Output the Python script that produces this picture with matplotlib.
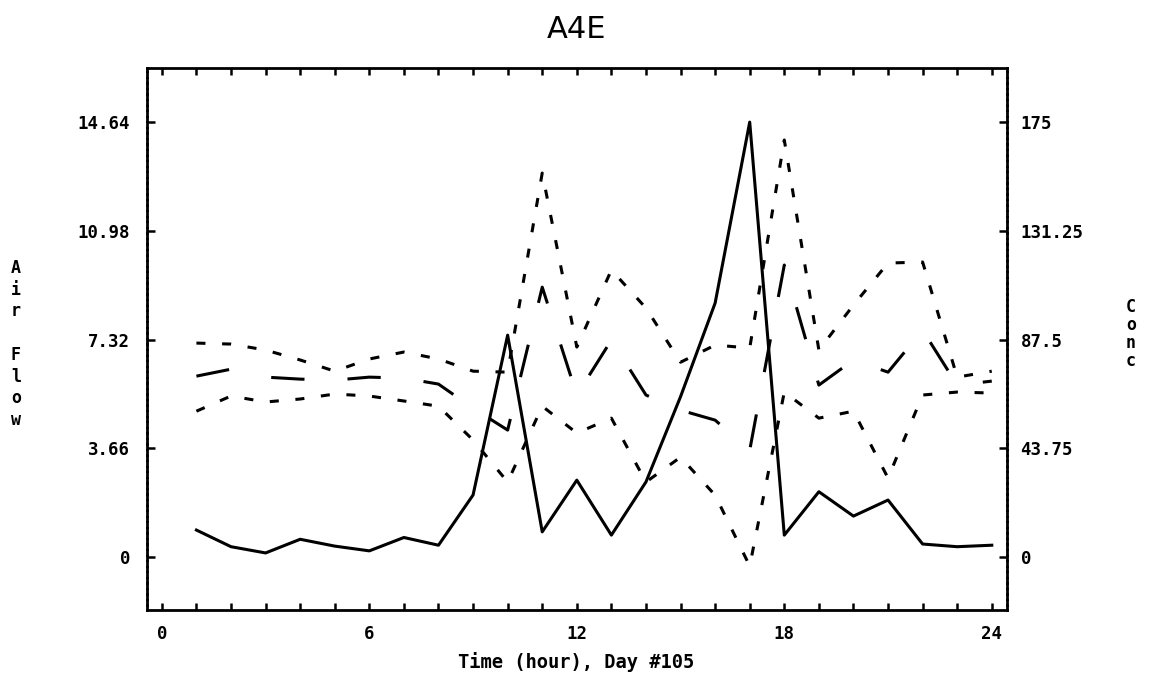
"""
A4E 空気流量と濃度のチャート
"""

import matplotlib.pyplot as plt

hours = list(range(1, 25))

# Air Flow (left axis), solid line
air_flow = [0.91, 0.35, 0.14, 0.60, 0.37, 0.21, 0.66, 0.40, 2.09, 7.47, 0.85, 2.59,
            0.74, 2.53, 5.40, 8.55, 14.64, 0.74, 2.20, 1.38, 1.92, 0.44, 0.35, 0.40]

# Conc (right axis), three dashed series
conc_a = [86.1, 85.7, 83.3, 79.3, 74.8, 79.7, 82.5, 79.7, 74.8, 74.4, 154.5, 84.5,
          115.5, 100.2, 78.4, 85.3, 84.1, 167.8, 83.3, 101.4, 118.3, 118.7, 72.4, 74.8]
conc_b = [72.8, 75.6, 72.4, 71.6, 71.2, 72.4, 72.0, 69.6, 59.9, 51.1, 108.6, 65.2,
          87.3, 65.2, 59.1, 55.1, 43.0, 117.5, 69.2, 79.3, 74.4, 91.3, 69.2, 70.8]
conc_c = [58.7, 64.8, 62.4, 63.6, 65.6, 64.8, 62.8, 60.7, 47.1, 30.2, 60.7, 49.9,
          55.9, 30.2, 40.2, 24.9, -3.6, 66.4, 55.9, 58.7, 31.8, 65.2, 66.4, 66.0]

x_ticks = [0, 6, 12, 18, 24]
left_ticks = [0, 3.66, 7.32, 10.98, 14.64]
left_labels = ["0", "3.66", "7.32", "10.98", "14.64"]
right_ticks = [0, 43.75, 87.5, 131.25, 175]
right_labels = ["0", "43.75", "87.5", "131.25", "175"]

TICK_FONT = dict(family="DejaVu Sans Mono", weight="bold", size=12.5)
LABEL_FONT = dict(family="DejaVu Sans Mono", weight="bold", size=12)


def plot_chart():
    """
    2軸のグラフを描いて out.png に保存します。
    """
    plt.rcParams["lines.scale_dashes"] = False
    fig = plt.figure(figsize=(11.6, 6.85), dpi=100)
    ax = fig.add_axes([0.1267, 0.1095, 0.7411, 0.7912])

    ax.plot(hours, air_flow, color="black", lw=2.2, solid_joinstyle="round")
    ax.set_xlim(-0.43, 24.43)
    ax.set_ylim(-1.78, 16.46)

    ax2 = ax.twinx()
    ax2.plot(hours, conc_a, color="black", lw=2.2, dashes=(6.5, 12))
    ax2.plot(hours, conc_b, color="black", lw=2.2, dashes=(24, 31))
    ax2.plot(hours, conc_c, color="black", lw=2.2, dashes=(6.5, 12))
    scale = 175 / 14.64
    ax2.set_ylim(-1.78 * scale, 16.46 * scale)

    # 目盛り
    ax.set_xticks(x_ticks)
    ax.set_xticklabels([str(t) for t in x_ticks], fontdict=TICK_FONT)
    ax.set_xticks(range(25), minor=True)
    ax.tick_params(axis="x", which="both", direction="in", top=True,
                   length=5, width=1.8, pad=11)
    ax.set_yticks(left_ticks)
    ax.set_yticklabels(left_labels, fontdict=TICK_FONT)
    ax.tick_params(axis="y", direction="in", length=6, width=1.8, pad=12)
    ax2.set_yticks(right_ticks)
    ax2.set_yticklabels(right_labels, fontdict=TICK_FONT)
    ax2.tick_params(axis="y", direction="in", length=6, width=1.8, pad=10)

    # 枠線
    for side in ["top", "bottom", "left", "right"]:
        ax.spines[side].set_linewidth(2)
        ax2.spines[side].set_visible(False)
    ax.spines["left"].set_linestyle((0, (3, 1)))
    ax.spines["right"].set_linestyle((0, (3, 1)))

    fig.text(577 / 1160, 1 - 30 / 685, "A4E", ha="center", va="center",
             fontsize=22, family="DejaVu Sans")
    fig.text(576 / 1160, 1 - 662 / 685, "Time (hour), Day #105", ha="center",
             va="center", family="DejaVu Sans Mono", weight="bold", size=13.5)
    fig.text(16 / 1160, 1 - 344 / 685, "A\ni\nr\n\nF\nl\no\nw", ha="center",
             va="center", linespacing=1.27, **LABEL_FONT)
    fig.text(1131 / 1160, 1 - 334 / 685, "C\no\nn\nc", ha="center",
             va="center", linespacing=0.99, **LABEL_FONT)

    fig.savefig("out.png", dpi=100)


def main():
    plot_chart()


if __name__ == "__main__":
    main()
